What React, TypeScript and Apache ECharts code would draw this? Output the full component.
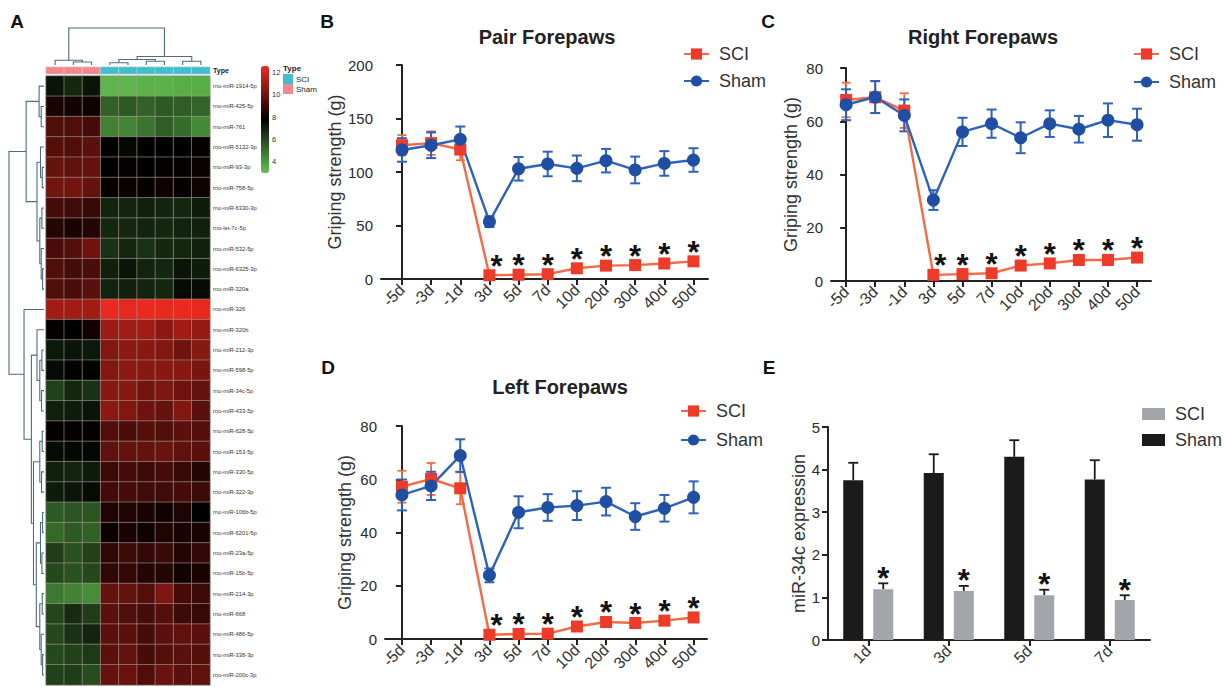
import React, { useEffect, useRef } from "react";
import * as echarts from "echarts";

const FONT = '"Liberation Sans", Arial, Helvetica, sans-serif';

// ---------- Panel A: heatmap ----------
const mirnas = [
  "rno-miR-1914-5p", "rno-miR-425-5p", "rno-miR-761", "rno-miR-5132-3p", "rno-miR-93-3p",
  "rno-miR-758-5p", "rno-miR-6330-3p", "rno-let-7c-5p", "rno-miR-532-5p", "rno-miR-6325-3p",
  "rno-miR-320a", "rno-miR-326", "rno-miR-320b", "rno-miR-212-3p", "rno-miR-598-5p",
  "rno-miR-34c-5p", "rno-miR-433-5p", "rno-miR-628-5p", "rno-miR-153-5p", "rno-miR-330-5p",
  "rno-miR-322-3p", "rno-miR-106b-5p", "rno-miR-6201-5p", "rno-miR-23a-5p", "rno-miR-15b-5p",
  "rno-miR-214-3p", "rno-miR-668", "rno-miR-486-5p", "rno-miR-338-3p", "rno-miR-200c-3p",
];
const sampleTypes = ["Sham", "Sham", "Sham", "SCI", "SCI", "SCI", "SCI", "SCI", "SCI"];
const typeNames = ["SCI", "Sham"];
const expression: number[][] = [
  [7.3, 6.8, 7.3, 3.3, 3.3, 3.4, 3.4, 3.5, 3.5],
  [8.3, 8.2, 8.1, 5.4, 5.6, 5.4, 5.6, 5.5, 5.3],
  [9.4, 9.4, 9.2, 4.6, 4.5, 4.9, 5.5, 5.1, 4.4],
  [9.5, 9.4, 9.6, 7.8, 7.6, 7.8, 7.8, 7.8, 7.9],
  [9.8, 9.7, 9.8, 7.8, 7.9, 7.8, 7.9, 7.9, 8.0],
  [10.1, 10.1, 9.8, 7.9, 8.0, 7.9, 8.1, 7.9, 8.1],
  [9.2, 9.1, 8.9, 6.9, 6.9, 7.0, 6.9, 6.8, 7.1],
  [8.5, 8.3, 8.5, 6.8, 6.8, 6.9, 6.8, 6.9, 7.0],
  [9.3, 9.5, 10.0, 6.6, 6.8, 6.6, 6.8, 6.8, 7.0],
  [9.4, 9.2, 9.3, 7.0, 7.3, 6.9, 6.8, 7.3, 7.1],
  [9.4, 9.3, 9.6, 6.9, 7.0, 6.9, 6.8, 7.5, 7.5],
  [11.0, 11.0, 11.0, 12.5, 12.4, 12.5, 12.4, 12.5, 12.4],
  [7.9, 7.8, 8.2, 10.9, 11.0, 11.0, 10.6, 11.0, 10.8],
  [7.2, 7.3, 7.2, 10.4, 10.6, 10.5, 10.4, 10.0, 10.5],
  [7.5, 7.7, 7.7, 10.4, 10.6, 10.5, 10.5, 10.5, 10.2],
  [6.2, 6.8, 6.6, 10.5, 10.5, 10.1, 10.3, 10.0, 9.8],
  [7.0, 7.1, 7.3, 10.6, 10.4, 10.0, 9.8, 10.4, 9.6],
  [7.9, 7.9, 7.9, 9.4, 9.3, 9.5, 9.4, 9.6, 9.5],
  [7.5, 7.6, 7.6, 9.7, 9.8, 9.8, 9.9, 9.7, 9.6],
  [7.0, 6.9, 7.1, 9.0, 9.2, 9.0, 9.2, 8.9, 8.5],
  [7.1, 7.3, 7.5, 9.1, 9.2, 9.1, 9.1, 9.2, 9.0],
  [5.6, 5.7, 5.7, 8.4, 8.4, 8.3, 8.1, 8.4, 7.8],
  [5.2, 5.6, 5.4, 8.0, 8.3, 8.1, 8.4, 8.3, 8.3],
  [6.3, 5.8, 6.2, 8.7, 9.0, 8.8, 8.9, 8.5, 8.8],
  [6.0, 5.8, 6.0, 8.7, 8.8, 8.5, 8.5, 8.2, 8.3],
  [4.8, 4.6, 4.3, 9.8, 9.8, 9.5, 10.3, 9.2, 9.0],
  [6.1, 6.7, 6.3, 9.6, 9.4, 9.2, 9.5, 9.0, 8.9],
  [6.0, 6.6, 6.9, 9.6, 9.6, 9.2, 9.6, 9.7, 9.6],
  [6.0, 6.2, 6.4, 9.6, 9.8, 9.2, 9.5, 9.6, 9.5],
  [6.2, 6.3, 5.9, 9.8, 9.9, 9.4, 9.9, 9.6, 9.7],
];
const colorScaleMin = 3;
const colorScaleMax = 12.6;
const colorbarTicks = [4, 6, 8, 10, 12];

// dendrograms: [height, left, right], leaves = row/column index
type Tree = number | [number, Tree, Tree];
const rowTree: Tree = [1.0,
  [0.51, [0.14, 0, [0.08, 1, 2]], [0.2, [0.1, 3, [0.05, 4, 5]], [0.12, [0.06, 6, 7], [0.08, 8, [0.04, 9, 10]]]]],
  [0.57, 11, [0.36,
    [0.2, 12, [0.12, [0.06, 13, 14], [0.07, 15, 16]]],
    [0.3, [0.12, [0.05, 17, 18], [0.07, 19, 20]],
      [0.22, [0.1, [0.04, 21, 22], [0.06, 23, 24]], [0.12, [0.05, 25, 26], [0.08, 27, [0.04, 28, 29]]]]]]]];
const colTree: Tree = [1.0, [0.13, 0, [0.08, 1, 2]], [0.23, [0.15, [0.06, 3, 4], [0.1, 5, 6]], [0.1, 7, 8]]];

// ---------- Panels B-D: grip strength ----------
const days = ["-5d", "-3d", "-1d", "3d", "5d", "7d", "10d", "20d", "30d", "40d", "50d"];
const starDays = ["3d", "5d", "7d", "10d", "20d", "30d", "40d", "50d"];

const pairSham = [120.6, 125, 130.5, 53.6, 103, 107.5, 103.4, 110.6, 101.9, 108, 111.2];
const pairShamErr = [11, 12, 12, 5, 11, 11.5, 12, 11, 12.5, 11.5, 11];
const pairSCI = [125, 127, 121, 3.5, 4, 4.5, 10, 12.5, 13, 14.5, 16.5];
const pairSCIErr = [9.5, 11, 10, 1.5, 1.5, 1.5, 2, 2, 2, 2, 2];

const rightSham = [66.2, 69.1, 62.2, 30.4, 56, 59.1, 53.8, 59.1, 57, 60.4, 58.7];
const rightShamErr = [5.8, 6, 6, 3.7, 5.3, 5.3, 5.8, 5, 5, 6.3, 6];
const rightSCI = [68, 69, 64, 2.3, 2.6, 2.9, 5.8, 6.6, 7.9, 7.9, 8.8];
const rightSCIErr = [6.5, 6, 6.5, 1, 1, 1, 1, 1, 1, 1, 1];

const leftSham = [54.1, 57.5, 68.9, 23.9, 47.6, 49.4, 50.1, 51.6, 46, 49.1, 53.2];
const leftShamErr = [5.8, 5.3, 6.1, 2.6, 6, 5, 5.4, 5.2, 5, 5, 6];
const leftSCI = [57.2, 60.1, 56.6, 1.6, 1.9, 2.0, 4.7, 6.4, 6.0, 6.9, 8.1];
const leftSCIErr = [6, 6, 6, 1, 1, 1, 1, 1, 1, 1, 1];

// ---------- Panel E: miR-34c qPCR ----------
const qDays = ["1d", "3d", "5d", "7d"];
const qSham = [3.75, 3.92, 4.30, 3.77];
const qShamErr = [0.41, 0.44, 0.39, 0.45];
const qSCI = [1.19, 1.15, 1.05, 0.94];
const qSCIErr = [0.14, 0.12, 0.13, 0.11];

// ---------- colours ----------
const SCI_LINE = "#f36a45";
const SCI_MARK = "#ee3a28";
const SHAM_LINE = "#2a62bd";
const SHAM_MARK = "#1f4ea3";
const TEAL = "#45bccb";
const PINK = "#ee8a8d";
const DENDRO = "#4d6d7e";
const AXIS = "#222";

function layoutTree(t: Tree, out: number[][]): { pos: number; h: number } {
  if (typeof t === "number") return { pos: t + 0.5, h: 0 };
  const [h, l, r] = t;
  const a = layoutTree(l, out);
  const b = layoutTree(r, out);
  out.push([a.pos, a.h, b.pos, b.h, h]);
  return { pos: (a.pos + b.pos) / 2, h };
}

function dendroRender(orient: "row" | "col") {
  return (params: any, api: any) => {
    const p1 = api.value(0), h1 = api.value(1), p2 = api.value(2), h2 = api.value(3), h = api.value(4);
    const c = (pos: number, hh: number) => (orient === "row" ? api.coord([hh, pos]) : api.coord([pos, hh]));
    return {
      type: "polyline",
      shape: { points: [c(p1, h1), c(p1, h), c(p2, h), c(p2, h2)] },
      style: { stroke: DENDRO, lineWidth: 1.1, fill: null },
    };
  };
}

function errRender(color: string, cap: number, lw: number, dx: number, upOnly: boolean) {
  return (params: any, api: any) => {
    const x = api.value(0), m = api.value(1), e = api.value(2);
    const top = api.coord([x, m + e]);
    const bot = api.coord([x, upOnly ? m : m - e]);
    const cx = top[0] + dx;
    const st = { stroke: color, lineWidth: lw };
    const children: any[] = [
      { type: "line", shape: { x1: cx, y1: top[1], x2: cx, y2: bot[1] }, style: st },
      { type: "line", shape: { x1: cx - cap / 2, y1: top[1], x2: cx + cap / 2, y2: top[1] }, style: st },
    ];
    if (!upOnly) children.push({ type: "line", shape: { x1: cx - cap / 2, y1: bot[1], x2: cx + cap / 2, y2: bot[1] }, style: st });
    return { type: "group", children };
  };
}

function starRender(dx: number, dy: number, firstDx: number) {
  return (params: any, api: any) => {
    const p = api.coord([api.value(0), api.value(1)]);
    const extra = params.dataIndex === 0 ? firstDx : 0;
    return {
      type: "text",
      x: p[0] + dx + extra,
      y: p[1] + dy,
      style: {
        text: "*", font: `bold 31px ${FONT}`, fill: "#111",
        align: "center", verticalAlign: "middle", textAlign: "center", textVerticalAlign: "middle",
      },
    };
  };
}

function buildOption() {
  const heatData: number[][] = [];
  expression.forEach((row, r) => row.forEach((v, c) => heatData.push([c, r, v])));
  const typeData = sampleTypes.map((t, c) => [c, 0, typeNames.indexOf(t)]);
  const rowLinks: number[][] = [];
  layoutTree(rowTree, rowLinks);
  const colLinks: number[][] = [];
  layoutTree(colTree, colLinks);

  const grid: any[] = [
    { left: 46, top: 76, width: 164, height: 609 }, // 0 heatmap
    { left: 46, top: 67, width: 164, height: 7 }, // 1 type bar
    { left: 5, top: 76, width: 39, height: 609 }, // 2 row dendrogram
    { left: 46, top: 20, width: 164, height: 45 }, // 3 col dendrogram
    { left: 260, top: 66, width: 8, height: 107 }, // 4 colorbar labels
    { left: 381, top: 65, width: 327, height: 214 }, // 5 B
    { left: 831, top: 68, width: 320, height: 213 }, // 6 C
    { left: 385, top: 426, width: 322, height: 213 }, // 7 D
    { left: 828, top: 427, width: 322, height: 213 }, // 8 E
  ];

  const hidden = (gridIndex: number, extra: any) => ({ gridIndex, show: false, ...extra });

  const lineX = (gridIndex: number, min: number, max: number) => ({
    type: "value", gridIndex, min, max,
    axisLine: { show: true, onZero: false, lineStyle: { color: AXIS, width: 2 } },
    axisTick: { show: true, length: 6, lineStyle: { color: AXIS, width: 2 }, customValues: days.map((_, i) => i) },
    axisLabel: {
      rotate: 45, fontSize: 16, color: "#333", fontFamily: FONT, margin: 8,
      customValues: days.map((_, i) => i),
      formatter: (v: number) => days[Math.round(v)] ?? "",
    },
    splitLine: { show: false },
  });
  const lineY = (gridIndex: number, max: number, interval: number, name: string, nameGap: number) => ({
    type: "value", gridIndex, min: 0, max, interval,
    name, nameLocation: "middle", nameGap, nameRotate: 90,
    nameTextStyle: { fontSize: 18, color: "#333", fontFamily: FONT },
    axisLine: { show: true, lineStyle: { color: AXIS, width: 2 } },
    axisTick: { show: true, length: 6, lineStyle: { color: AXIS, width: 2 } },
    axisLabel: { fontSize: 15, color: "#2a2a2a", fontFamily: FONT, margin: 8 },
    splitLine: { show: false },
  });

  const xAxis: any[] = [
    { type: "category", gridIndex: 0, data: sampleTypes.map((_, i) => String(i)), show: false },
    { type: "category", gridIndex: 1, data: sampleTypes.map((_, i) => String(i)), show: false },
    hidden(2, { type: "value", min: 0, max: 1.114, inverse: true }),
    hidden(3, { type: "value", min: 0, max: 9 }),
    hidden(4, { type: "value", min: 0, max: 1 }),
    lineX(5, -0.72, 10.5),
    lineX(6, -0.52, 10.48),
    lineX(7, -0.58, 10.46),
    {
      type: "category", gridIndex: 8, data: qDays,
      axisLine: { show: true, lineStyle: { color: AXIS, width: 2 } },
      axisTick: { show: true, alignWithLabel: true, length: 6, lineStyle: { color: AXIS, width: 2 } },
      axisLabel: { rotate: 45, fontSize: 16, color: "#333", fontFamily: FONT, margin: 8 },
    },
  ];

  const yAxis: any[] = [
    {
      type: "category", gridIndex: 0, data: mirnas, inverse: true, position: "right",
      axisLine: { show: false }, axisTick: { show: false },
      axisLabel: { fontSize: 5.8, color: "#333", fontFamily: FONT, margin: 3 },
    },
    {
      type: "category", gridIndex: 1, data: ["Type"], position: "right",
      axisLine: { show: false }, axisTick: { show: false },
      axisLabel: { fontSize: 7, fontWeight: "bold", color: "#222", fontFamily: FONT, margin: 3 },
    },
    hidden(2, { type: "value", min: 0, max: mirnas.length, inverse: true }),
    hidden(3, { type: "value", min: 0, max: 1.216 }),
    {
      type: "value", gridIndex: 4, min: colorScaleMin, max: colorScaleMax, position: "right",
      axisLine: { show: false }, axisTick: { show: false }, splitLine: { show: false },
      axisLabel: {
        fontSize: 7.5, color: "#333", fontFamily: FONT, margin: 4,
        customValues: colorbarTicks,
        formatter: (v: number) => (colorbarTicks.includes(v) ? String(v) : ""),
      },
    },
    lineY(5, 200, 50, "Griping strength (g)", 29),
    lineY(6, 80, 20, "Griping strength (g)", 31),
    lineY(7, 80, 20, "Griping strength (g)", 31),
    lineY(8, 5, 1, "miR-34c expression", 20),
  ];

  const series: any[] = [
    {
      type: "heatmap", xAxisIndex: 0, yAxisIndex: 0, data: heatData,
      itemStyle: { borderColor: "#a89890", borderWidth: 0.6 },
      emphasis: { disabled: true },
    },
    {
      type: "heatmap", xAxisIndex: 1, yAxisIndex: 1, data: typeData,
      itemStyle: { borderColor: "#e6f4f5", borderWidth: 0.4 },
      emphasis: { disabled: true },
    },
    {
      type: "custom", name: "rowDendro", xAxisIndex: 2, yAxisIndex: 2, data: rowLinks,
      renderItem: dendroRender("row"), silent: true,
    },
    {
      type: "custom", name: "colDendro", xAxisIndex: 3, yAxisIndex: 3, data: colLinks,
      renderItem: dendroRender("col"), silent: true,
    },
  ];

  const addLinePanel = (
    axisIdx: number, sci: number[], sciErr: number[], sham: number[], shamErr: number[],
  ) => {
    series.push({
      type: "custom", name: `sciErr${axisIdx}`, xAxisIndex: axisIdx, yAxisIndex: axisIdx,
      data: sci.map((v, i) => [i, v, sciErr[i]]),
      renderItem: errRender(SCI_LINE, 9, 1.8, 0, false), silent: true,
    });
    series.push({
      type: "line", name: "SCI", xAxisIndex: axisIdx, yAxisIndex: axisIdx,
      data: sci.map((v, i) => [i, v]),
      symbol: "rect", symbolSize: 12,
      lineStyle: { color: SCI_LINE, width: 2.4 }, itemStyle: { color: SCI_MARK },
      emphasis: { disabled: true },
    });
    series.push({
      type: "custom", name: `shamErr${axisIdx}`, xAxisIndex: axisIdx, yAxisIndex: axisIdx,
      data: sham.map((v, i) => [i, v, shamErr[i]]),
      renderItem: errRender(SHAM_LINE, 10, 2, 0, false), silent: true,
    });
    series.push({
      type: "line", name: "Sham", xAxisIndex: axisIdx, yAxisIndex: axisIdx,
      data: sham.map((v, i) => [i, v]),
      symbol: "circle", symbolSize: 13,
      lineStyle: { color: SHAM_LINE, width: 2.4 }, itemStyle: { color: SHAM_MARK },
      emphasis: { disabled: true },
    });
    series.push({
      type: "custom", name: `stars${axisIdx}`, xAxisIndex: axisIdx, yAxisIndex: axisIdx,
      data: starDays.map((d) => { const i = days.indexOf(d); return [i, sci[i]]; }),
      renderItem: starRender(0, -9, 7), silent: true,
    });
  };
  addLinePanel(5, pairSCI, pairSCIErr, pairSham, pairShamErr);
  addLinePanel(6, rightSCI, rightSCIErr, rightSham, rightShamErr);
  addLinePanel(7, leftSCI, leftSCIErr, leftSham, leftShamErr);

  // Panel E bars
  series.push({
    type: "bar", name: "Sham ", xAxisIndex: 8, yAxisIndex: 8, data: qSham,
    barWidth: 20, barGap: "50%", itemStyle: { color: "#1b1b1b" }, emphasis: { disabled: true },
  });
  series.push({
    type: "bar", name: "SCI ", xAxisIndex: 8, yAxisIndex: 8, data: qSCI,
    barWidth: 20, barGap: "50%", itemStyle: { color: "#a2a6aa" }, emphasis: { disabled: true },
  });
  series.push({
    type: "custom", name: "qShamErr", xAxisIndex: 8, yAxisIndex: 8,
    data: qSham.map((v, i) => [i, v, qShamErr[i]]),
    renderItem: errRender("#1b1b1b", 10, 1.8, -15, true), silent: true,
  });
  series.push({
    type: "custom", name: "qSCIErr", xAxisIndex: 8, yAxisIndex: 8,
    data: qSCI.map((v, i) => [i, v, qSCIErr[i]]),
    renderItem: errRender("#1b1b1b", 10, 1.8, 15, true), silent: true,
  });
  series.push({
    type: "custom", name: "qStars", xAxisIndex: 8, yAxisIndex: 8,
    data: qSCI.map((v, i) => [i, v + qSCIErr[i]]),
    renderItem: starRender(15, -5, 0), silent: true,
  });

  const lineLegend = (left: number, top: number, gap: number) => ({
    orient: "vertical", left, top, itemWidth: 25, itemHeight: 14, itemGap: gap, padding: 0,
    data: ["SCI", "Sham"], selectedMode: false,
    textStyle: { fontSize: 18, color: "#333", fontFamily: FONT, padding: [0, 0, 0, 5] },
  });

  const letter = (t: string, x: number, y: number) => ({
    type: "text", x, y,
    style: {
      text: t, font: `bold 19px ${FONT}`, fill: "#111",
      align: "center", verticalAlign: "middle", textAlign: "center", textVerticalAlign: "middle",
    },
  });
  const title = (t: string, x: number, y: number) => ({
    type: "text", x, y,
    style: {
      text: t, font: `bold 20px ${FONT}`, fill: "#222",
      align: "center", verticalAlign: "middle", textAlign: "center", textVerticalAlign: "middle",
    },
  });

  return {
    animation: false,
    backgroundColor: "#ffffff",
    textStyle: { fontFamily: FONT },
    grid,
    xAxis,
    yAxis,
    visualMap: [
      {
        type: "continuous", seriesIndex: 0, min: colorScaleMin, max: colorScaleMax,
        inRange: { color: ["#62c24e", "#000000", "#f02a20"] },
        calculable: false, orient: "vertical", left: 261, top: 66, itemWidth: 8, itemHeight: 107,
        padding: 0, text: null, hoverLink: false,
      },
      {
        type: "piecewise", seriesIndex: 1,
        pieces: [
          { value: 0, label: typeNames[0], color: TEAL },
          { value: 1, label: typeNames[1], color: PINK },
        ],
        orient: "vertical", inverse: true, left: 283, top: 74, itemWidth: 10, itemHeight: 10,
        itemGap: 0, padding: 0, textGap: 3, itemSymbol: "rect", selectedMode: false, hoverLink: false,
        textStyle: { fontSize: 8, color: "#222", fontFamily: FONT },
      },
    ],
    legend: [
      lineLegend(683, 45, 9),
      lineLegend(1133, 45, 10),
      lineLegend(680, 402, 11),
      {
        orient: "vertical", left: 1142, top: 405, itemWidth: 23, itemHeight: 12, itemGap: 8, padding: 0,
        data: ["SCI ", "Sham "], icon: "rect", selectedMode: false,
        formatter: (n: string) => n.trim(),
        textStyle: { fontSize: 18, color: "#333", fontFamily: FONT, padding: [0, 0, 0, 5] },
      },
    ],
    graphic: [
      letter("A", 17, 21),
      letter("B", 327, 21),
      letter("C", 768, 21),
      letter("D", 328, 367),
      letter("E", 769, 367),
      title("Pair Forepaws", 547, 37),
      title("Right Forepaws", 983, 37),
      title("Left Forepaws", 560, 387),
      {
        type: "text", x: 283, y: 68,
        style: { text: "Type", font: `bold 8px ${FONT}`, fill: "#222", verticalAlign: "middle", textVerticalAlign: "middle" },
      },
    ],
    series,
  };
}

export default function App() {
  const ref = useRef<HTMLDivElement>(null);
  useEffect(() => {
    if (!ref.current) return;
    const chart = echarts.init(ref.current, null, { renderer: "svg" });
    chart.setOption(buildOption() as any);
    return () => chart.dispose();
  }, []);
  return (
    <div
      ref={ref}
      style={{ position: "fixed", left: 0, top: 0, width: 1225, height: 687, background: "#fff" }}
    />
  );
}
